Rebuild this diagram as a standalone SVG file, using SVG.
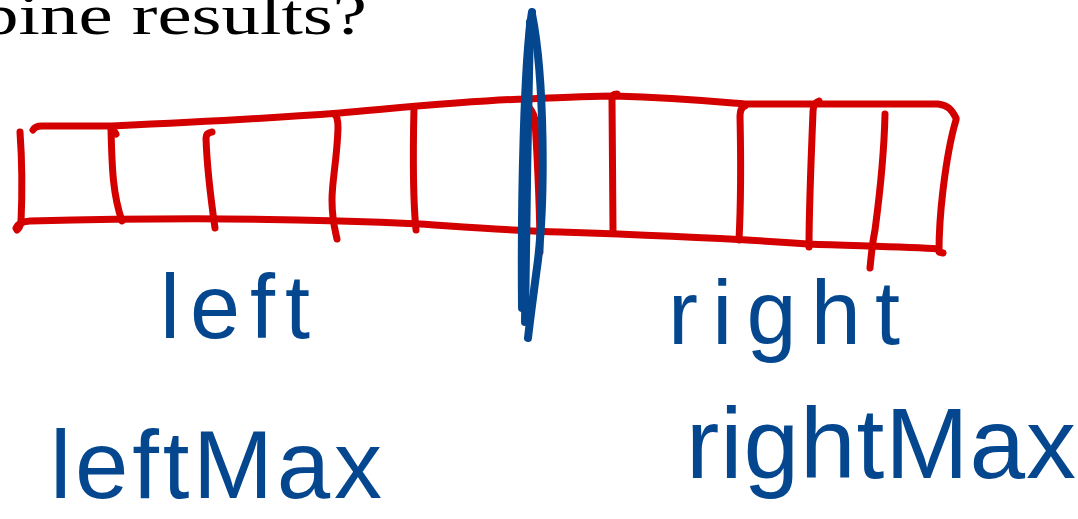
<svg xmlns="http://www.w3.org/2000/svg" width="1078" height="519" viewBox="0 0 1078 519">
<style>
.red{fill:none;stroke:#d40000;stroke-width:7;stroke-linecap:round;stroke-linejoin:round}
.blue{fill:none;stroke:#05478f;stroke-width:8;stroke-linecap:round;stroke-linejoin:round}
.hand{font-family:"Liberation Sans","DejaVu Sans",sans-serif;fill:#05478f}
.title{font-family:"Liberation Serif","DejaVu Serif",serif;fill:#000}
</style>
<rect width="1078" height="519" fill="#fff"/>
<text class="title" x="-20" y="34" font-size="58" textLength="387" lengthAdjust="spacingAndGlyphs">bine results?</text>
<g id="array">
<path class="red" d="M33,130 Q35,126 42,126 L112,126 C200,122 300,116 340,113 C420,106 480,100 527,99 C570,97 600,96 614,96 C680,98 720,102 745,104 C800,104 900,104 938,104 C948,105 952,110 956,118"/>
<path class="red" d="M956,120 C950,140 946,165 943,190 C940,215 939,235 939,252 L943,253"/>
<path class="red" d="M16,228 Q18,222 30,221 C150,218 300,218 420,224 C480,228 520,231 560,232 C650,235 740,239 808,244 C860,246 910,247 938,249"/>
<path class="red" d="M20,132 C22,160 22,200 21,222 Q20,228 17,230"/>
<path class="red" d="M116,134 Q114,130 111,129 C112,170 113,195 122,221"/>
<path class="red" d="M212,132 Q206,133 206,138 C207,170 211,200 215,228"/>
<path class="red" d="M334,114 Q338,116 338,128 C337,160 332,180 332,200 C332,220 335,230 337,239"/>
<path class="red" d="M414,107 C413,150 413,200 416,230"/>
<path class="red" d="M527,106 Q533,110 535,120 C538,170 540,220 540,252"/>
<path class="red" d="M617,94 Q612,94 612,99 C612,150 613,200 613,230"/>
<path class="red" d="M745,106 Q740,108 740,116 C741,160 741,200 739,240"/>
<path class="red" d="M819,101 Q813,103 813,112 C811,160 809,210 809,247"/>
<path class="red" d="M885,114 C884,160 879,200 875,230 C872,245 871,258 870,268"/>
</g>
<g id="divider">
<path class="blue" d="M532,12 C524,60 521,200 522,308"/>
<path class="blue" d="M532,14 C545,80 545,200 538,260 C534,290 530,320 528,338"/>
<path class="blue" d="M530,22 C528,100 526,250 525,322"/>
</g>
<g id="labels">
<text class="hand" x="160" y="338" font-size="90" textLength="150" lengthAdjust="spacing">left</text>
<text class="hand" x="668" y="344" font-size="90" textLength="232" lengthAdjust="spacing">right</text>
<text class="hand" x="50" y="498" font-size="96" textLength="332" lengthAdjust="spacing">leftMax</text>
<text class="hand" x="686" y="478" font-size="100" textLength="390" lengthAdjust="spacing">rightMax</text>
</g>
</svg>
